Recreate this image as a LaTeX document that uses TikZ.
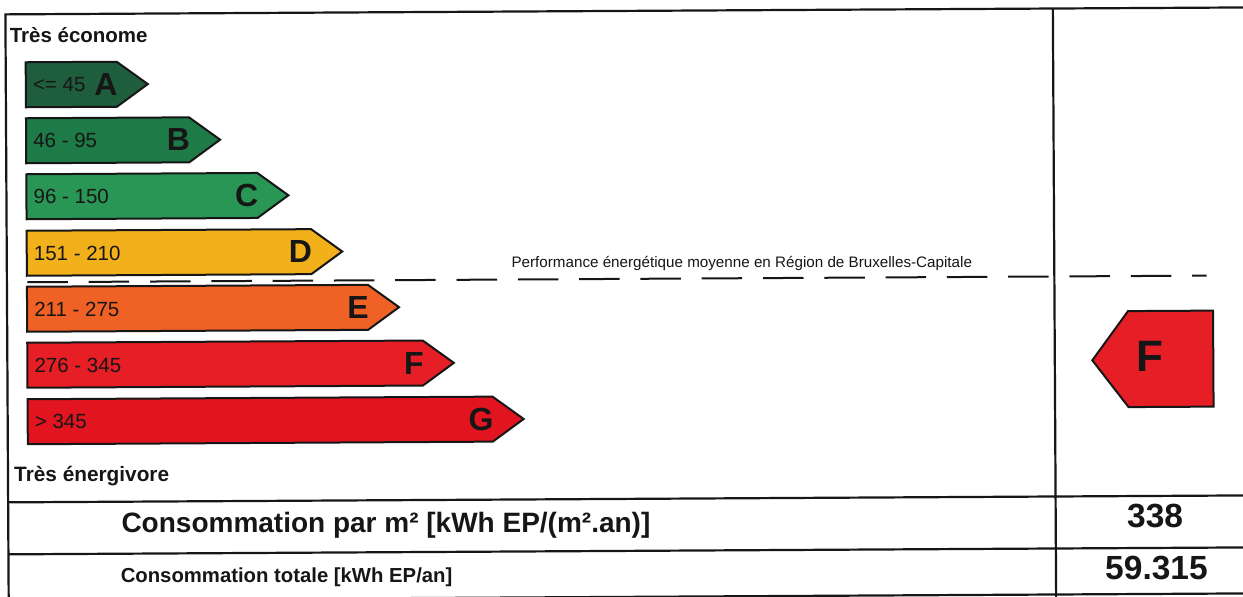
\documentclass[tikz,border=0pt]{standalone}
\usepackage{fontspec}
\setmainfont{Liberation Sans}
\definecolor{cA}{HTML}{1F5E3C}
\definecolor{cB}{HTML}{1E7A47}
\definecolor{cC}{HTML}{2A9656}
\definecolor{cD}{HTML}{F2B11B}
\definecolor{cE}{HTML}{EF6124}
\definecolor{cF}{HTML}{E61E26}
\definecolor{cG}{HTML}{E1141F}
\definecolor{ink}{HTML}{161616}
\tikzset{
  frameline/.style={draw=ink, line width=2.2pt},
  barshape/.style={draw=ink, line width=2pt, line join=miter},
  rangetxt/.style={inner sep=0pt, text=ink, font=\fontsize{20.5}{24}\selectfont},
  lettertxt/.style={inner sep=0pt, text=ink, font=\fontsize{32}{36}\selectfont\bfseries},
  headtxt/.style={inner sep=0pt, text=ink, anchor=base west},
  valtxt/.style={inner sep=0pt, text=ink, font=\fontsize{33.5}{38}\selectfont\bfseries},
  avgline/.style={draw=ink, line width=2pt, dash pattern=on 40.5pt off 20.8pt}
}
\newcommand\ecbar[6]{%
  \draw[barshape, fill=#4] (27,#2) -- (#3,#2) -- ({#3+31},{#2+22.5}) -- (#3,{#2+45}) -- (27,{#2+45}) -- cycle;
  \node[rangetxt, anchor=west] (#1range) at (34,{#2+22.5}) {#5};
  \node[lettertxt, anchor=east] (#1letter) at ({#3+1},{#2+22.5}) {#6};
}
\begin{document}
\begin{tikzpicture}[x=1pt,y=-1pt]
\useasboundingbox (0,0) rectangle (1243,597);
\fill[white] (0,0) rectangle (1243,597);
\clip (0,0) rectangle (1243,597);
\begin{scope}[rotate around={0.32:(250,300)}]
  % frame
  \draw[frameline] (7,620) -- (7,13) -- (1270,13);
  \draw[frameline] (1054.5,13) -- (1054.5,620);
  \draw[frameline] (7,501) -- (1270,501);
  \draw[frameline] (7,553) -- (1270,553);
  \draw[frameline] (7,599) -- (1270,599);
  % headings
  \node[headtxt, font=\fontsize{20.5}{24}\selectfont\bfseries] (top) at (11,41) {Très économe};
  \node[headtxt, font=\fontsize{20.8}{24}\selectfont\bfseries] (bottom) at (13,480) {Très énergivore};
  % bars
  \ecbar{a}{61}{118}{cA}{<= 45}{A}
  \ecbar{b}{117}{190}{cB}{46 - 95}{B}
  \ecbar{c}{173}{258}{cC}{96 - 150}{C}
  \ecbar{d}{229.5}{311.5}{cD}{151 - 210}{D}
  \ecbar{e}{285.5}{368}{cE}{211 - 275}{E}
  \ecbar{f}{341.5}{422.5}{cF}{276 - 345}{F}
  \ecbar{g}{398}{492}{cG}{> 345}{G}
  % average line
  \coordinate (avgL) at (27.5,281);
  \coordinate (avgR) at (1207,281);
  \draw[avgline] (avgL) -- (avgR);
  \node[inner sep=0pt, text=ink, anchor=base, font=\fontsize{15.2}{18}\selectfont] (avg) at (742,270.5) {Performance énergétique moyenne en Région de Bruxelles-Capitale};
  % result arrow
  \draw[barshape, fill=cF] (1128,316) -- (1213,316) -- (1213,412) -- (1128,412) -- (1092,365) -- cycle;
  \node[inner sep=0pt, text=ink, font=\fontsize{44}{48}\selectfont\bfseries] (res) at (1150,361) {F};
  % bottom rows
  \node[headtxt, font=\fontsize{28}{32}\selectfont\bfseries] (perm2) at (120,531.5) {Consommation par m² [kWh EP/(m².an)]};
  \node[headtxt, font=\fontsize{20.3}{24}\selectfont\bfseries] (total) at (119,582) {Consommation totale [kWh EP/an]};
  \node[valtxt] (v1) at (1154,521.5) {338};
  \node[valtxt] (v2) at (1155,573) {59.315};
\end{scope}
\end{tikzpicture}
\end{document}
